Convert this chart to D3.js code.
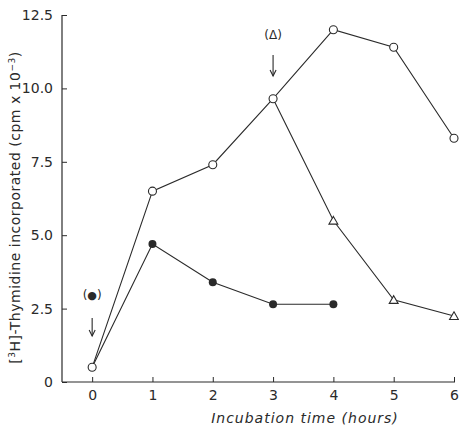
<!DOCTYPE html>
<html>
<head>
<meta charset="utf-8">
<script src="https://cdn.jsdelivr.net/npm/d3@7"></script>
<style>
  body { margin: 0; background: #fff; }
  svg text { font-family: "DejaVu Sans", sans-serif; fill: #2a2a2a; }
</style>
</head>
<body>
<div id="chart"></div>
<script>
// Data
const hours = [0, 1, 2, 3, 4, 5, 6];
const openCircles = [0.5, 6.5, 7.4, 9.65, 12.0, 11.4, 8.3];      // control
const filledHours = [0, 1, 2, 3, 4];
const filledCircles = [0.5, 4.7, 3.4, 2.65, 2.65];               // added at 0 h
const triangleHours = [3, 4, 5, 6];
const triangles = [9.65, 5.5, 2.8, 2.25];                         // added at 3 h
const yTicks = [0, 2.5, 5.0, 7.5, 10.0, 12.5];

const width = 459, height = 426;
const ink = "#2a2a2a";

const svg = d3.select("#chart").append("svg")
  .attr("width", width)
  .attr("height", height);

const x = d3.scaleLinear().domain([-0.5, 6]).range([62, 454]);
const y = d3.scaleLinear().domain([0, 12.5]).range([382, 15]);

// X axis: ticks point inward (up)
const xAxis = svg.append("g")
  .attr("transform", `translate(0,${y(0)})`)
  .call(d3.axisBottom(x).tickValues(hours).tickSize(-5).tickPadding(8).tickFormat(d3.format("d")));
xAxis.select(".domain").attr("d", `M${x(-0.5)},0H${x(6) + 1}`).attr("stroke", ink).attr("stroke-width", 1.2);
xAxis.selectAll(".tick line").attr("stroke", ink);
xAxis.selectAll("text").style("font-size", "14px").attr("fill", ink);

// Y axis: ticks point inward (right)
const yAxis = svg.append("g")
  .attr("transform", `translate(${x(-0.5)},0)`)
  .call(d3.axisLeft(y).tickValues(yTicks).tickSize(-5).tickPadding(9)
    .tickFormat(d => d === 0 ? "0" : d3.format(".1f")(d)));
yAxis.select(".domain").attr("d", `M0,${y(0)}V${y(12.5)}`).attr("stroke", ink).attr("stroke-width", 1.2);
yAxis.selectAll(".tick line").attr("stroke", ink);
yAxis.selectAll("text").style("font-size", "14px").attr("fill", ink);

const line = d3.line().x(d => x(d[0])).y(d => y(d[1]));
const zip = (xs, ys) => xs.map((v, i) => [v, ys[i]]);

const openData = zip(hours, openCircles);
const filledData = zip(filledHours, filledCircles);
const triData = zip(triangleHours, triangles);

[openData, filledData, triData].forEach(d => {
  svg.append("path").datum(d)
    .attr("d", line)
    .attr("fill", "none")
    .attr("stroke", ink)
    .attr("stroke-width", 1.1);
});

// filled circles (skip hour 0, drawn as the shared open start point)
svg.selectAll(".filled").data(filledData.slice(1)).enter().append("circle")
  .attr("cx", d => x(d[0])).attr("cy", d => y(d[1])).attr("r", 4)
  .attr("fill", ink);

// triangles (skip hour 3, shared with the open series)
const tri = d3.symbol().type(d3.symbolTriangle).size(34);
svg.selectAll(".tri").data(triData.slice(1)).enter().append("path")
  .attr("d", tri)
  .attr("transform", d => `translate(${x(d[0])},${y(d[1]) + 1})`)
  .attr("fill", "#fff").attr("stroke", ink).attr("stroke-width", 1.1);

// open circles
svg.selectAll(".open").data(openData).enter().append("circle")
  .attr("cx", d => x(d[0])).attr("cy", d => y(d[1])).attr("r", 4)
  .attr("fill", "#fff").attr("stroke", ink).attr("stroke-width", 1.1);

// arrow annotations
function arrow(hx, yTop, yBot) {
  const g = svg.append("g").attr("stroke", ink).attr("fill", "none").attr("stroke-width", 1.1);
  g.append("line").attr("x1", x(hx)).attr("x2", x(hx)).attr("y1", yTop).attr("y2", yBot);
  g.append("path").attr("d", `M${x(hx) - 3},${yBot - 6}L${x(hx)},${yBot}L${x(hx) + 3},${yBot - 6}`);
}
arrow(0, 318, 336);
arrow(3, 55, 76);

const ann0 = svg.append("text").attr("x", x(0)).attr("y", 299)
  .attr("text-anchor", "middle").style("font-size", "12px");
ann0.append("tspan").text("(");
ann0.append("tspan").text("●").style("font-size", "11px");
ann0.append("tspan").text(")");

svg.append("text").attr("x", x(3)).attr("y", 39)
  .attr("text-anchor", "middle").style("font-size", "12px")
  .text("(Δ)");

// axis titles
svg.append("text")
  .attr("x", 305).attr("y", 423)
  .attr("text-anchor", "middle")
  .style("font-size", "14px").style("font-style", "italic").style("letter-spacing", "1px")
  .text("Incubation time (hours)");

const yl = svg.append("text")
  .attr("transform", `translate(20,${(y(0) + y(12.5)) / 2 + 9}) rotate(-90)`)
  .attr("text-anchor", "middle")
  .style("font-size", "14px").style("letter-spacing", "0.5px");
yl.append("tspan").text("[");
yl.append("tspan").text("3").attr("dy", -5).style("font-size", "9px");
yl.append("tspan").text("H]-Thymidine incorporated (cpm x 10").attr("dy", 5);
yl.append("tspan").text("−3").attr("dy", -5).style("font-size", "9px");
yl.append("tspan").text(")").attr("dy", 5);
</script>
</body>
</html>
